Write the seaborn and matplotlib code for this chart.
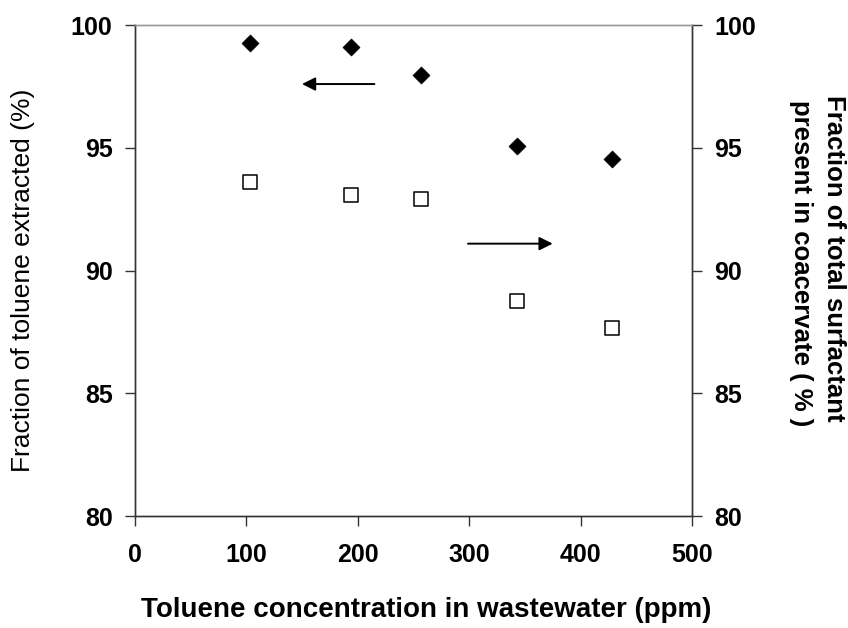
import matplotlib
matplotlib.use("Agg")
import matplotlib.pyplot as plt
import seaborn as sns
import pandas as pd

# Toluene in the feed wastewater (ppm)
toluene_ppm = [103, 194, 257, 343, 428]
# Fraction of toluene extracted into the coacervate (%)
toluene_extracted = [99.27, 99.1, 97.96, 95.07, 94.54]
# Fraction of total surfactant present in the coacervate (%)
surfactant_in_coacervate = [93.6, 93.07, 92.9, 88.76, 87.66]

x_ticks = [0, 100, 200, 300, 400, 500]
y_ticks = [80, 85, 90, 95, 100]

sns.set_theme(style="ticks")
plt.rcParams["font.family"] = ["Liberation Sans", "DejaVu Sans"]
plt.rcParams.update({"text.color": "black", "axes.labelcolor": "black",
                     "xtick.labelcolor": "black", "ytick.labelcolor": "black"})

df = pd.DataFrame({
    "ppm": toluene_ppm,
    "extracted": toluene_extracted,
    "surfactant": surfactant_in_coacervate,
})

W, H = 848, 628
fig = plt.figure(figsize=(W / 100, H / 100), dpi=100)
ax = fig.add_axes([0.159, 0.178, 0.657, 0.782])
ax2 = ax.twinx()

sns.scatterplot(data=df, x="ppm", y="extracted", ax=ax, marker="D",
                color="black", s=75, edgecolor="black", linewidth=0.5, zorder=3)
sns.scatterplot(data=df, x="ppm", y="surfactant", ax=ax2, marker="s",
                facecolor="white", edgecolor="black", s=100, linewidth=1.1, zorder=3)

for a in (ax, ax2):
    a.set_xlim(0, 500)
    a.set_ylim(80, 100)
    a.set_yticks(y_ticks)
    a.set_xlabel("")
    a.set_ylabel("")
    for sp in a.spines.values():
        sp.set_color("#333333")
        sp.set_linewidth(1.0)
    a.spines["top"].set_color("#999999")
    a.tick_params(axis="both", direction="out", length=7, width=1.0,
                  color="#333333", labelcolor="black", labelsize=18, pad=9)
    for lbl in a.get_yticklabels():
        lbl.set_fontweight("bold")

ax.set_xticks(x_ticks)
for lbl in ax.get_xticklabels():
    lbl.set_fontweight("bold")
ax.tick_params(axis="x", pad=12)

# Axis titles placed in figure pixels
fig.text(426 / W, 1 - 610 / H, "Toluene concentration in wastewater (ppm)",
         ha="center", va="center", fontsize=20, fontweight="bold")
fig.text(23 / W, 1 - 280 / H, "Fraction of toluene extracted (%)",
         rotation=90, ha="center", va="center", fontsize=19)
fig.text(834 / W, 1 - 95 / H, "Fraction of total surfactant",
         rotation=270, ha="center", va="top", fontsize=18.5, fontweight="bold")
fig.text(801 / W, 1 - 100 / H, "present in coacervate ( % )",
         rotation=270, ha="center", va="top", fontsize=18.5, fontweight="bold")

# Arrows pointing each series to its own axis
ax.annotate("", xy=(150, 97.6), xytext=(215, 97.6),
            arrowprops=dict(arrowstyle="-|>", color="black", lw=1.4,
                            mutation_scale=20, shrinkA=0, shrinkB=0))
ax.annotate("", xy=(375, 91.1), xytext=(299, 91.1),
            arrowprops=dict(arrowstyle="-|>", color="black", lw=1.4,
                            mutation_scale=20, shrinkA=0, shrinkB=0))

fig.savefig("out.png", dpi=100, facecolor="white")
